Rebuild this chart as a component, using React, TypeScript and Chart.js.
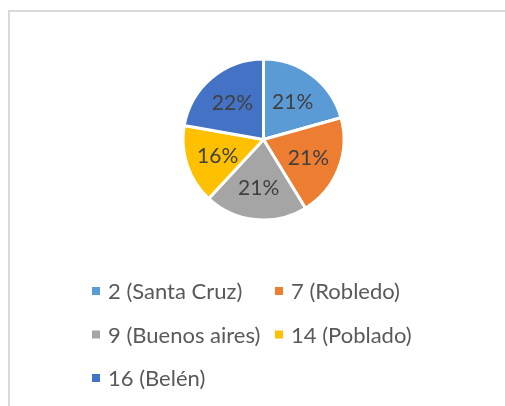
import React, { useEffect, useRef } from "react";
import { Chart, registerables } from "chart.js";

Chart.register(...registerables);

const categories = ["2 (Santa Cruz)", "7 (Robledo)", "9 (Buenos aires)", "14 (Poblado)", "16 (Belén)"];
const values = [13, 13, 13, 10, 14];
const colors = ["#5B9BD5", "#ED7D31", "#A5A5A5", "#FFC000", "#4472C4"];

const FONT = "Lato, 'Open Sans', sans-serif";

const pieLabels = {
  id: "pieLabels",
  afterDatasetsDraw(chart: any) {
    const ctx = chart.ctx;
    const meta = chart.getDatasetMeta(0);
    const data = chart.data.datasets[0].data as number[];
    const total = data.reduce((a, b) => a + b, 0);
    ctx.save();
    ctx.font = `21px ${FONT}`;
    ctx.fillStyle = "#404040";
    ctx.textAlign = "center";
    ctx.textBaseline = "middle";
    meta.data.forEach((arc: any, i: number) => {
      const { x, y, startAngle, endAngle, outerRadius } = arc.getProps(
        ["x", "y", "startAngle", "endAngle", "outerRadius"],
        true
      );
      const mid = (startAngle + endAngle) / 2;
      const r = outerRadius * 0.6;
      const pct = Math.round((data[i] / total) * 100) + "%";
      ctx.fillText(pct, x + Math.cos(mid) * r, y + Math.sin(mid) * r + 1);
    });
    ctx.restore();
  },
};

const gridLegend = {
  id: "gridLegend",
  afterDraw(chart: any) {
    const ctx = chart.ctx;
    const labels = chart.data.labels as string[];
    const bg = chart.data.datasets[0].backgroundColor as string[];
    const colX = [92, 275];
    const rowY = [291, 334.5, 378];
    ctx.save();
    ctx.font = `22px ${FONT}`;
    ctx.textAlign = "left";
    ctx.textBaseline = "middle";
    labels.forEach((lab, i) => {
      const cx = colX[i % 2];
      const cy = rowY[Math.floor(i / 2)];
      ctx.fillStyle = bg[i];
      ctx.fillRect(cx, cy - 4, 8, 8);
      ctx.fillStyle = "#595959";
      ctx.fillText(lab, cx + 16, cy + 1);
    });
    ctx.restore();
  },
};

export default function App() {
  const ref = useRef<HTMLCanvasElement | null>(null);
  useEffect(() => {
    if (!ref.current) return;
    const chart = new Chart(ref.current, {
      type: "pie",
      data: {
        labels: categories,
        datasets: [
          {
            data: values,
            backgroundColor: colors,
            borderColor: "#ffffff",
            borderWidth: 3,
            hoverOffset: 0,
          },
        ],
      },
      options: {
        animation: false,
        responsive: true,
        maintainAspectRatio: false,
        radius: 80.5,
        layout: { padding: { left: 163.5, right: 141.5, top: 39.5, bottom: 166.5 } },
        plugins: {
          legend: { display: false },
          tooltip: { enabled: false },
        },
      } as any,
      plugins: [pieLabels, gridLegend],
    });
    return () => chart.destroy();
  }, []);
  return (
    <div style={{ position: "absolute", left: 0, top: 0, width: 505, height: 406, background: "#fff" }}>
      <div
        style={{
          position: "absolute",
          left: 8,
          top: 10,
          width: 497,
          height: 396,
          boxSizing: "border-box",
          borderLeft: "2px solid #d9d9d9",
          borderTop: "2px solid #d9d9d9",
        }}
      />
      <div style={{ position: "absolute", left: 0, top: 0, width: 505, height: 406 }}>
        <canvas ref={ref} />
      </div>
    </div>
  );
}
